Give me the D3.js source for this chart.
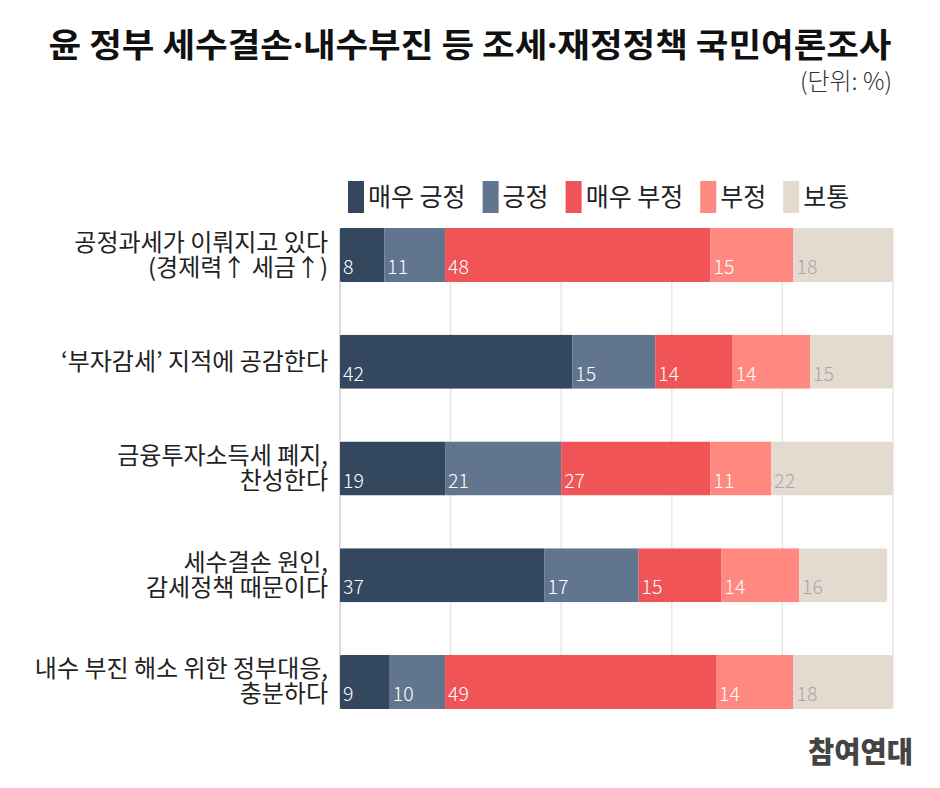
<!DOCTYPE html>
<html>
<head>
<meta charset="utf-8">
<script src="https://cdn.jsdelivr.net/npm/d3@7"></script>
<style>
  body { margin: 0; background: #fff; }
  svg { display: block; font-family: 'Noto Sans CJK KR', 'Noto Sans', sans-serif; }
</style>
</head>
<body>
<svg id="chart" width="940" height="788"></svg>
<script>
// survey items (each row split into display lines)
const categories = [
    ['공정과세가 이뤄지고 있다', '(경제력↑ 세금↑)'],
    ['‘부자감세’ 지적에 공감한다'],
    ['금융투자소득세 폐지,', '찬성한다'],
    ['세수결손 원인,', '감세정책 때문이다'],
    ['내수 부진 해소 위한 정부대응,', '충분하다']
];
const seriesNames = ['매우 긍정', '긍정', '매우 부정', '부정', '보통'];
const seriesColors = ['#33485f', '#61758e', '#f05456', '#ff8880', '#e3dbcf'];

const veryPositive = [8, 42, 19, 37, 9];
const positive = [11, 15, 21, 17, 10];
const veryNegative = [48, 14, 27, 15, 49];
const negative = [15, 14, 11, 14, 14];
const neutral = [18, 15, 22, 16, 18];

const ticks = [0, 20, 40, 60, 80, 100];

const titleParts = ['윤 정부 세수결손', '·', '내수부진 등 조세', '·', '재정정책 국민여론조사'];

const svg = d3.select('#chart');

const rows = categories.map((c, i) => ({
    key: i,
    lines: c,
    values: [veryPositive[i], positive[i], veryNegative[i], negative[i], neutral[i]]
}));

const x = d3.scaleLinear().domain([0, 100]).range([340, 893]);
const y = d3.scaleBand().domain(rows.map(r => r.key)).range([228, 709]).paddingInner(0.494).paddingOuter(0);

// title
const title = svg.append('text')
    .attr('x', 470).attr('y', 57)
    .attr('text-anchor', 'middle')
    .attr('font-size', 33).attr('font-weight', 700).attr('fill', '#111')
    .attr('textLength', 843).attr('lengthAdjust', 'spacingAndGlyphs');
title.selectAll('tspan').data(titleParts).enter().append('tspan')
    .style('font-family', d => d === '·' ? "'Noto Sans', sans-serif" : null)
    .text(d => d);

svg.append('text')
    .attr('x', 892).attr('y', 90)
    .attr('text-anchor', 'end')
    .attr('font-size', 24).attr('font-weight', 300).attr('fill', '#333')
    .text('(단위: %)');

// legend
const legend = svg.append('g');
let lx = 348;
seriesNames.forEach((name, i) => {
    legend.append('rect')
        .attr('x', lx).attr('y', 181)
        .attr('width', 16).attr('height', 32)
        .attr('fill', seriesColors[i]);
    const t = legend.append('text')
        .attr('x', lx + 20).attr('y', 206)
        .attr('font-size', 25).attr('fill', '#222')
        .text(name);
    lx += 20 + t.node().getComputedTextLength() + 17;
});

// grid
const grid = svg.append('g');
grid.selectAll('line').data(ticks).enter().append('line')
    .attr('x1', d => x(d)).attr('x2', d => x(d))
    .attr('y1', y.range()[0]).attr('y2', y.range()[1])
    .attr('stroke', (d, i) => i === 0 ? '#cfcfcf' : '#e6e6e6')
    .attr('stroke-width', 1.5);

// clip each row so the bar's right end is slightly rounded
const defs = svg.append('defs');
rows.forEach(r => {
    const total = d3.sum(r.values);
    defs.append('clipPath').attr('id', 'clip' + r.key)
        .append('rect')
        .attr('x', x(0) - 1).attr('y', y(r.key))
        .attr('width', x(total) - x(0) + 1).attr('height', y.bandwidth())
        .attr('rx', 3);
});

const rowG = svg.append('g').selectAll('g').data(rows).enter().append('g')
    .attr('clip-path', d => `url(#clip${d.key})`);

const segs = rowG.selectAll('g').data(r => {
    let acc = 0;
    return r.values.map((v, i) => {
        const s = { row: r.key, i: i, v: v, x0: acc, x1: acc + v };
        acc += v;
        return s;
    });
}).enter().append('g');

segs.append('rect')
    .attr('x', d => x(d.x0)).attr('y', d => y(d.row))
    .attr('width', d => x(d.x1) - x(d.x0)).attr('height', y.bandwidth())
    .attr('fill', d => seriesColors[d.i]);

segs.append('text')
    .attr('x', d => x(d.x0) + 3)
    .attr('y', d => y(d.row) + y.bandwidth() - 8)
    .attr('font-size', 19.5).attr('font-weight', 300)
    .attr('fill', d => d.i === 4 ? '#a8a8a8' : '#fff')
    .text(d => d.v);

// row labels
const labels = svg.append('g').selectAll('text').data(rows).enter().append('text')
    .attr('text-anchor', 'end')
    .attr('font-size', 24).attr('fill', '#222');

labels.selectAll('tspan').data(r => r.lines.map((l, i) => ({ l, i, n: r.lines.length, key: r.key })))
    .enter().append('tspan')
    .attr('x', 328)
    .attr('y', d => y(d.key) + y.bandwidth() / 2 + 8 + (d.i - (d.n - 1) / 2) * 25)
    .text(d => d.l);

// logo
svg.append('text')
    .attr('x', 913).attr('y', 763)
    .attr('text-anchor', 'end')
    .attr('font-size', 29).attr('font-weight', 900).attr('fill', '#444')
    .attr('textLength', 105).attr('lengthAdjust', 'spacingAndGlyphs')
    .text('참여연대');
</script>
</body>
</html>
